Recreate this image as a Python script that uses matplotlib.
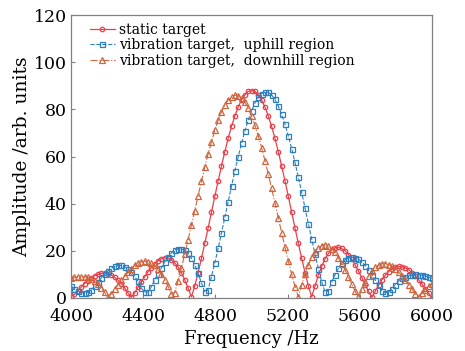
# -*- coding:utf-8 -*-
import numpy as np
import matplotlib
matplotlib.use("Agg")
import matplotlib.pyplot as plt

# 频率轴：4000~6000 Hz，共 109 个采样点
freq = np.linspace(4000, 6000, 109)

# 静止目标
static_amp = [
    1.0, 1.5, 3.1, 4.6, 6.1, 7.4, 8.5, 9.5, 10.1, 10.5, 10.6, 10.3, 9.8, 8.8, 7.6, 6.1, 4.3, 2.2, 0.3,
    2.2, 4.5, 6.8, 9.0, 11.1, 12.9, 14.5, 15.8, 16.6, 17.0, 16.9, 16.2, 14.9, 13.1, 10.7, 7.7, 4.1, 0.5,
    5.1, 10.8, 16.8, 23.2, 29.7, 36.4, 43.1, 49.7, 56.0, 62.1, 67.7, 72.8, 77.2, 81.0, 84.0, 86.2, 87.6,
    88.0, 87.6, 86.2, 84.0, 81.0, 77.2, 72.8, 67.7, 62.1, 56.0, 49.7, 43.1, 36.4, 29.7, 23.2, 16.8, 10.8,
    5.1, 0.5, 5.2, 9.7, 13.5, 16.6, 18.9, 20.4, 21.3, 21.5, 21.0, 20.0, 18.4, 16.4, 14.0, 11.4, 8.6, 5.7,
    2.8, 0.3, 2.8, 5.4, 7.7, 9.6, 11.2, 12.3, 13.1, 13.4, 13.3, 12.8, 12.0, 10.8, 9.4, 7.7, 5.9, 3.9,
    2.0, 0.2,
]

# 振动目标，上坡区域
uphill_amp = [
    5.0, 4.0, 3.0, 2.3, 2.0, 2.4, 3.4, 5.0, 6.8, 8.5, 10.1, 11.5, 12.6, 13.4, 13.8, 13.8, 13.3, 12.5,
    11.1, 9.3, 7.0, 4.2, 2.5, 2.5, 4.8, 7.6, 10.3, 12.8, 15.3, 17.4, 19.1, 20.3, 20.9, 20.8, 20.2, 18.9,
    16.8, 14.1, 10.5, 6.4, 2.5, 3.6, 9.0, 14.9, 21.1, 27.6, 34.2, 40.8, 47.4, 53.8, 59.9, 65.6, 70.8,
    75.5, 79.4, 82.7, 85.1, 86.7, 87.4, 87.2, 86.1, 84.2, 81.5, 77.9, 73.7, 68.8, 63.4, 57.5, 51.3, 44.8,
    38.2, 31.5, 25.0, 18.6, 12.5, 6.8, 2.5, 3.0, 6.8, 9.9, 12.7, 14.8, 16.2, 17.1, 17.4, 17.1, 16.4,
    15.3, 13.7, 11.8, 9.9, 7.7, 5.4, 3.0, 2.3, 2.5, 4.0, 5.7, 7.2, 8.3, 9.1, 9.6, 9.9, 10.0, 9.9, 9.6,
    9.3, 8.9, 8.3,
]

# 振动目标，下坡区域
downhill_amp = [
    8.3, 8.7, 9.0, 9.1, 9.0, 8.7, 8.1, 7.1, 5.8, 4.3, 2.4, 0.4, 1.7, 3.7, 5.6, 7.5, 9.2, 10.9, 12.5,
    13.8, 14.7, 15.4, 15.6, 15.4, 14.8, 13.9, 12.3, 10.3, 7.8, 5.0, 1.7, 2.3, 7.4, 12.8, 18.6, 24.7,
    30.8, 37.1, 43.4, 49.5, 55.5, 61.1, 66.3, 71.1, 75.3, 78.9, 81.8, 84.0, 85.4, 86.0, 85.8, 84.8,
    83.0, 80.5, 77.2, 73.3, 68.8, 63.8, 58.3, 52.5, 46.5, 40.3, 34.0, 27.7, 21.6, 15.7, 10.1, 4.8, 0.5,
    5.4, 10.1, 14.1, 17.2, 19.7, 21.3, 22.2, 22.4, 22.0, 20.8, 19.3, 17.0, 14.6, 11.9, 9.0, 6.0, 2.9,
    0.3, 3.8, 6.9, 9.3, 11.4, 13.0, 13.9, 14.5, 14.6, 14.2, 13.5, 12.4, 11.0, 9.3, 7.6, 5.7, 3.8, 1.8,
    0.3, 2.0, 3.6, 4.9, 5.8,
]

x_ticks = [4000, 4400, 4800, 5200, 5600, 6000]
y_ticks = [0, 20, 40, 60, 80, 100, 120]


def run_main():
    plt.rcParams['font.family'] = ['DejaVu Serif']
    fig = plt.figure(figsize=(4.65, 3.51), dpi=100)
    ax = fig.add_axes([0.153, 0.151, 0.776, 0.806])

    red = '#e8404a'
    blue = '#2e7fc0'
    orange = '#d0643c'
    ax.plot(freq, static_amp, '-', color=red, lw=0.9, marker='o', ms=3.2,
            mfc='none', mew=0.9, label='static target')
    ax.plot(freq, uphill_amp, '--', color=blue, lw=0.8, marker='s', ms=3.6,
            mfc='none', mew=0.9, label='vibration target,  uphill region')
    ax.plot(freq, downhill_amp, '-.', color=orange, lw=0.8, marker='^', ms=4.2,
            mfc='none', mew=0.9, label='vibration target,  downhill region')

    ax.set_xlim(4000, 6000)
    ax.set_ylim(0, 120)
    ax.set_xticks(x_ticks)
    ax.set_yticks(y_ticks)
    ax.tick_params(direction='in', length=3, color='#808080', labelsize=12.5)
    ax.tick_params(axis='x', pad=7)
    ax.tick_params(axis='y', pad=3)
    for sp in ax.spines.values():
        sp.set_color('#808080')
        sp.set_linewidth(0.9)

    ax.set_xlabel('Frequency /Hz', fontsize=13, labelpad=4)
    ax.set_ylabel('Amplitude /arb. units', fontsize=13.5, labelpad=2)

    ax.legend(loc='upper left', bbox_to_anchor=(0.03, 1.0), frameon=False, fontsize=10,
              handlelength=1.8, handletextpad=0.3, labelspacing=0.1, borderaxespad=0.15)

    plt.savefig('out.png', dpi=100)


if __name__ == '__main__':
    run_main()
